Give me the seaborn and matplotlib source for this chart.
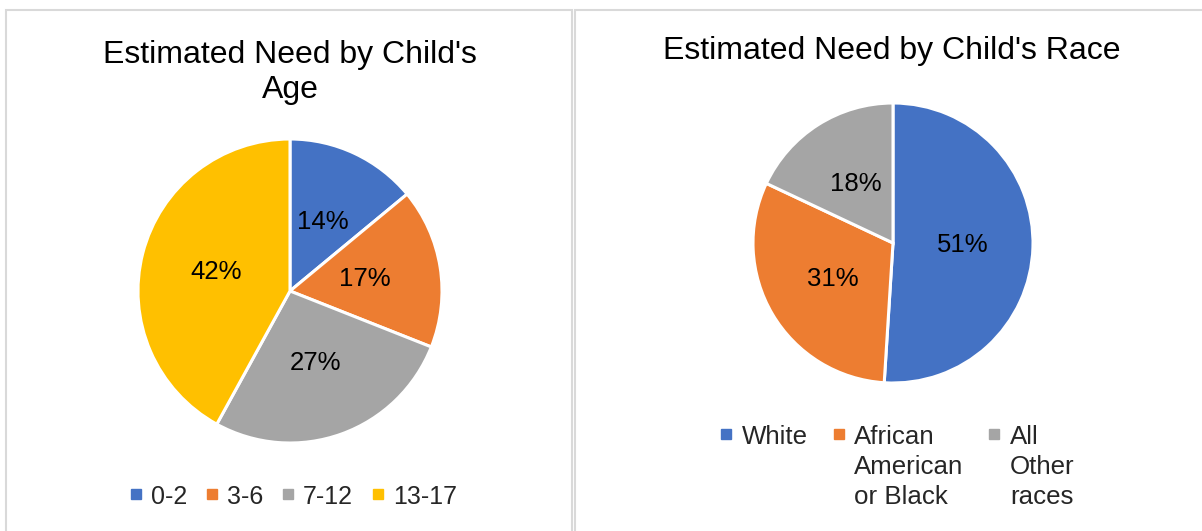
import textwrap
import matplotlib
matplotlib.use("Agg")
import matplotlib.pyplot as plt
from matplotlib.lines import Line2D
from matplotlib.patches import Rectangle
import seaborn as sns

# data
age_groups = ["0-2", "3-6", "7-12", "13-17"]
age_share = [14, 17, 27, 42]
race_groups = ["White", "African American or Black", "All Other races"]
race_share = [51, 31, 18]

office = ["#4472C4", "#ED7D31", "#A5A5A5", "#FFC000"]

sns.set_theme(style="white")
plt.rcParams["font.family"] = ["Liberation Sans", "DejaVu Sans"]

W, H = 1202, 531
fig = plt.figure(figsize=(W / 100, H / 100), dpi=100)


def fx(px):
    return px / W


def fy(py):
    return 1 - py / H


# panel borders
for x0, x1 in [(6, 572), (575, 1210)]:
    fig.patches.append(Rectangle((fx(x0), fy(560)), fx(x1 - x0), (560 - 10) / H,
                                 transform=fig.transFigure, fill=False,
                                 edgecolor="#D9D9D9", linewidth=1.5))


def draw_pie(ax, vals, cols):
    ax.pie(vals, colors=cols, startangle=90, counterclock=False,
           autopct=lambda p: "%d%%" % round(p), pctdistance=0.5,
           wedgeprops=dict(edgecolor="white", linewidth=2.2),
           textprops=dict(fontsize=18.5, color="black"))
    ax.set_xlim(-1, 1)
    ax.set_ylim(-1, 1)


def make_legend(labels, cols, size=18, colsp=1.0, **kw):
    hs = [Line2D([], [], marker="s", linestyle="none", markersize=6.5,
                 markerfacecolor=c, markeredgecolor=c) for c in cols]
    leg = fig.legend(hs, labels, frameon=False, handlelength=0.4,
                     handletextpad=0.4, columnspacing=colsp, borderpad=0,
                     borderaxespad=0, prop=dict(size=size),
                     bbox_transform=fig.transFigure, **kw)
    # multi-line labels: keep the marker next to the first line
    box = leg._legend_handle_box
    box.align = "top"
    for col in box.get_children():
        for row in col.get_children():
            row.align = "top"
    for t in leg.get_texts():
        t.set_linespacing(1.32)
    return leg


# left: age
ax1 = fig.add_axes([fx(138), fy(443), fx(304), 304 / H])
draw_pie(ax1, age_share, office[:len(age_share)])
fig.text(fx(290), fy(98), "Estimated Need by Child's\nAge", ha="center",
         va="baseline", fontsize=23, color="black", linespacing=1.22)
make_legend(age_groups, office[:len(age_groups)], size=18, colsp=0.8,
            ncol=4, loc="center", bbox_to_anchor=(fx(294), fy(497)))

# right: race
ax2 = fig.add_axes([fx(753), fy(383), fx(280), 280 / H])
draw_pie(ax2, race_share, office[:len(race_share)])
fig.text(fx(892), fy(59), "Estimated Need by Child's Race", ha="center",
         va="baseline", fontsize=23, color="black")
make_legend([textwrap.fill(r, 8) for r in race_groups], office[:len(race_groups)],
            size=18.6, ncol=3, loc="upper left", bbox_to_anchor=(fx(721), fy(425)))

fig.savefig("out.png", dpi=100)
